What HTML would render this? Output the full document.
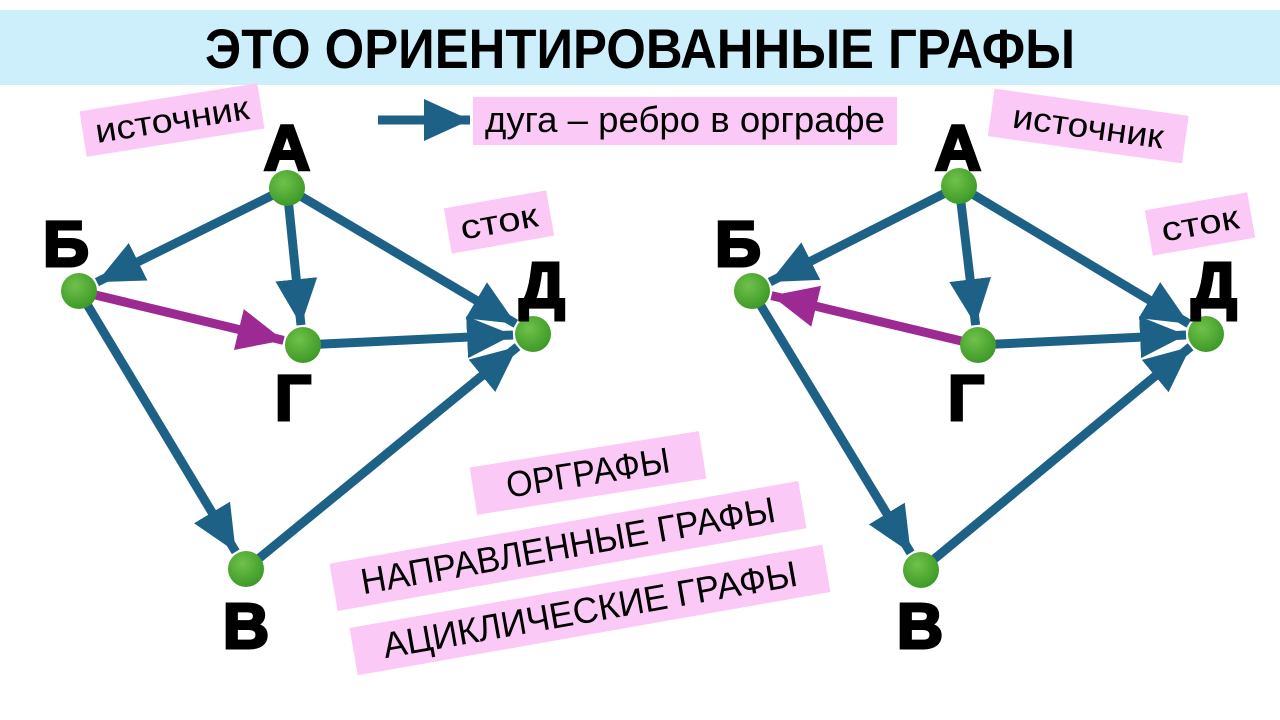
<!DOCTYPE html>
<html><head><meta charset="utf-8"><style>
html,body{margin:0;padding:0;background:#fff;width:1280px;height:720px;overflow:hidden}
svg{display:block}
text{font-family:"Liberation Sans",sans-serif}
</style></head><body>
<svg id="s" width="1280" height="720" viewBox="0 0 1280 720" xmlns="http://www.w3.org/2000/svg">
<defs>
<marker id="hb" markerUnits="userSpaceOnUse" markerWidth="50" markerHeight="46" refX="46" refY="23" orient="auto"><path d="M0,2 L46,23 L0,44 Z" fill="#1d6286"/></marker>
<marker id="hp" markerUnits="userSpaceOnUse" markerWidth="50" markerHeight="46" refX="46" refY="23" orient="auto"><path d="M0,2 L46,23 L0,44 Z" fill="#9c2a92"/></marker>
<radialGradient id="g" cx="40%" cy="35%" r="65%"><stop offset="0" stop-color="#6fc24a"/><stop offset="1" stop-color="#3e9a27"/></radialGradient>
</defs>
<rect x="0" y="10" width="1280" height="75" fill="#cdeefb"/>
<text transform="translate(640,68) scale(1,1.15)" text-anchor="middle" font-size="48" font-weight="bold" fill="#000" textLength="870" lengthAdjust="spacingAndGlyphs">ЭТО ОРИЕНТИРОВАННЫЕ ГРАФЫ</text>

<g transform="rotate(-9 172 120)"><rect x="82" y="97" width="180" height="46" fill="#fbc9f5"/><text transform="translate(172,131) scale(1,1.25)" text-anchor="middle" font-size="27" textLength="155" lengthAdjust="spacingAndGlyphs">источник</text></g>
<g transform="rotate(-10 499 222)"><rect x="447" y="199" width="104" height="46" fill="#fbc9f5"/><text transform="translate(499,233) scale(1,1.25)" text-anchor="middle" font-size="27" textLength="78" lengthAdjust="spacingAndGlyphs">сток</text></g>
<g transform="rotate(8 1088 128)"><rect x="990" y="102" width="196" height="48" fill="#fbc9f5"/><text transform="translate(1088,138) scale(1,1.25)" text-anchor="middle" font-size="27" textLength="152" lengthAdjust="spacingAndGlyphs">источник</text></g>
<g transform="rotate(-10 1200 224)"><rect x="1148" y="201" width="104" height="46" fill="#fbc9f5"/><text transform="translate(1200,235) scale(1,1.25)" text-anchor="middle" font-size="27" textLength="78" lengthAdjust="spacingAndGlyphs">сток</text></g>

<line x1="378" y1="120" x2="470" y2="120" stroke="#1d6286" stroke-width="9" marker-end="url(#hb)"/>
<rect x="473" y="97" width="424" height="48" fill="#fbc9f5"/>
<text transform="translate(685,132) scale(1,1.2)" text-anchor="middle" font-size="30" textLength="400" lengthAdjust="spacingAndGlyphs">дуга – ребро в орграфе</text>

<g transform="rotate(-9 588 473)"><rect x="472" y="449" width="232" height="48" fill="#fbc9f5"/><text transform="translate(588,485) scale(1,1.25)" text-anchor="middle" font-size="29" textLength="165" lengthAdjust="spacingAndGlyphs">ОРГРАФЫ</text></g>
<g transform="rotate(-10 568 546)"><rect x="330" y="522" width="476" height="48" fill="#fbc9f5"/><text transform="translate(568,558) scale(1,1.25)" text-anchor="middle" font-size="29" textLength="420" lengthAdjust="spacingAndGlyphs">НАПРАВЛЕННЫЕ ГРАФЫ</text></g>
<g transform="rotate(-10 590 610)"><rect x="350" y="586" width="480" height="48" fill="#fbc9f5"/><text transform="translate(590,622) scale(1,1.25)" text-anchor="middle" font-size="29" textLength="420" lengthAdjust="spacingAndGlyphs">АЦИКЛИЧЕСКИЕ ГРАФЫ</text></g>
<g id="edges"></g>
<g id="nodes"></g>
<g font-weight="bold" font-size="64" text-anchor="middle" fill="#000" stroke="#000" stroke-width="3">
<text x="287" y="170">А</text><text x="66" y="266">Б</text><text x="542" y="307">Д</text><text x="293" y="420">Г</text><text x="246" y="648">В</text>
<text x="958" y="170">А</text><text x="738" y="266">Б</text><text x="1214" y="307">Д</text><text x="966" y="420">Г</text><text x="920" y="648">В</text>
</g>
</svg>
<script>
var NS="http://www.w3.org/2000/svg";
function graph(n,e){
 var E=document.getElementById("edges"),N=document.getElementById("nodes");
 e.forEach(function(d){var a=n[d[0]],b=n[d[1]];var dx=b[0]-a[0],dy=b[1]-a[1],L=Math.hypot(dx,dy);
  var l=document.createElementNS(NS,"line");
  l.setAttribute("x1",a[0]+dx/L*10);l.setAttribute("y1",a[1]+dy/L*10);
  l.setAttribute("x2",b[0]-dx/L*20);l.setAttribute("y2",b[1]-dy/L*20);
  var p=d[2]?"p":"b";
  l.setAttribute("stroke",p=="p"?"#9c2a92":"#1d6286");l.setAttribute("stroke-width","9");
  l.setAttribute("marker-end","url(#h"+p+")");
  E.appendChild(l);});
 for(var k in n){var c=document.createElementNS(NS,"circle");c.setAttribute("cx",n[k][0]);c.setAttribute("cy",n[k][1]);c.setAttribute("r","18");c.setAttribute("fill","url(#g)");N.appendChild(c);}
}
graph({A:[287,188],B:[79,291],G:[303,345],D:[533,334],V:[246,569]},
 [["A","B"],["A","G"],["A","D"],["B","G",1],["G","D"],["B","V"],["V","D"]]);
graph({A:[959,186],B:[752,291],G:[978,345],D:[1206,334],V:[921,570]},
 [["A","B"],["A","G"],["A","D"],["G","B",1],["G","D"],["B","V"],["V","D"]]);
</script>
</body></html>
